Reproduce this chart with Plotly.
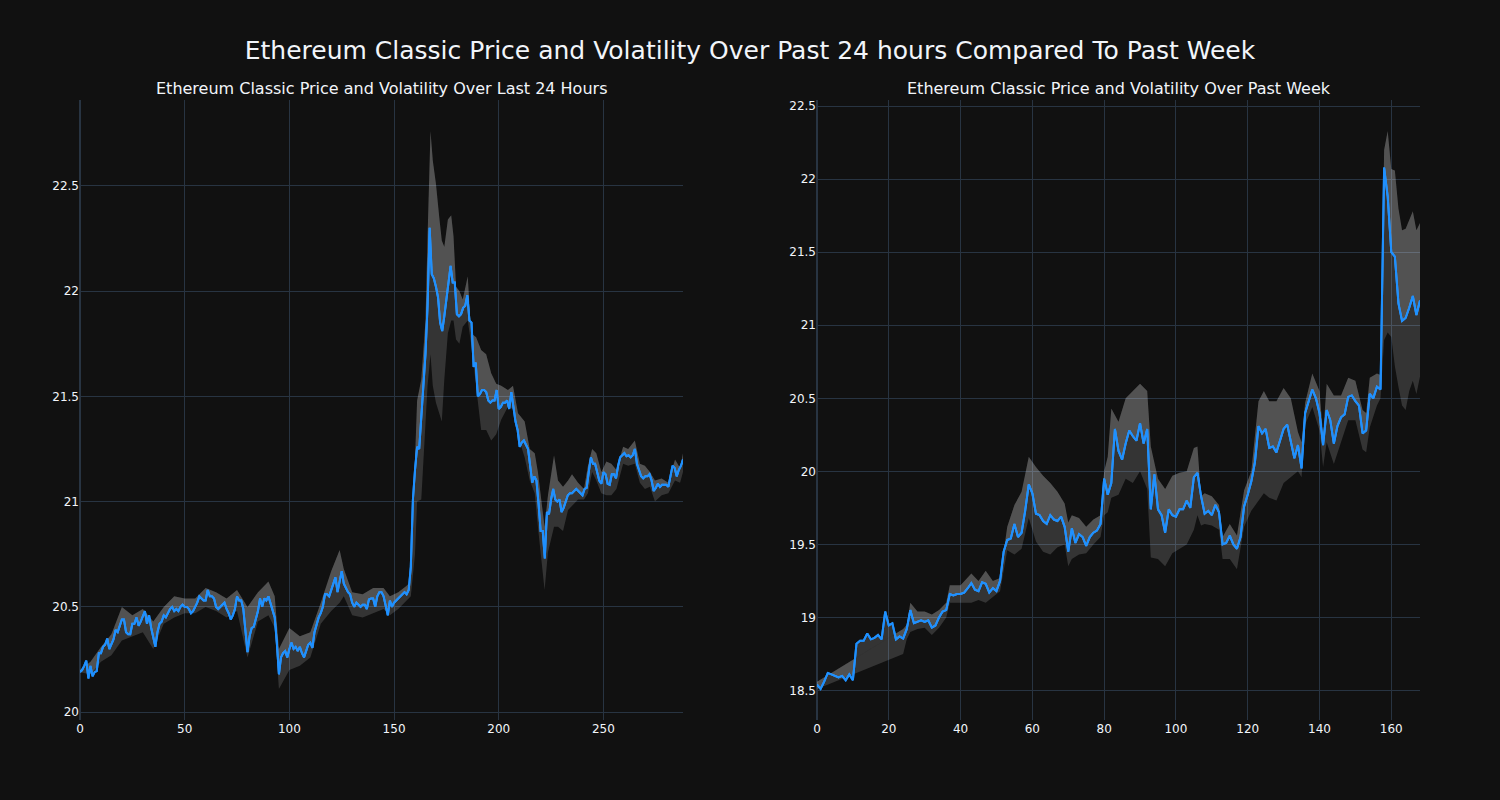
import plotly.graph_objects as go
from plotly.subplots import make_subplots

# ---------------- Last 24 hours ----------------
day_price = [
    20.19, 20.20, 20.22, 20.245, 20.16, 20.22, 20.17, 20.19, 20.195, 20.28,
    20.28, 20.31, 20.32, 20.35, 20.30, 20.32, 20.345, 20.39, 20.38, 20.41,
    20.44, 20.44, 20.38, 20.37, 20.37, 20.42, 20.42, 20.45, 20.41, 20.43,
    20.46, 20.48, 20.42, 20.46, 20.40, 20.35, 20.31, 20.38, 20.42, 20.43,
    20.46, 20.45, 20.47, 20.49, 20.50, 20.48, 20.49, 20.48, 20.50, 20.51,
    20.50, 20.50, 20.49, 20.47, 20.48, 20.50, 20.52, 20.55, 20.54, 20.53,
    20.53, 20.58, 20.55, 20.55, 20.54, 20.50, 20.49, 20.50, 20.51, 20.52,
    20.49, 20.47, 20.44, 20.46, 20.49, 20.55, 20.53, 20.53, 20.49, 20.40,
    20.285, 20.36, 20.40, 20.405, 20.44, 20.48, 20.54, 20.50, 20.54, 20.53,
    20.55, 20.52, 20.48, 20.45, 20.33, 20.18, 20.26, 20.28, 20.29, 20.26,
    20.30, 20.33, 20.30, 20.31, 20.29, 20.31, 20.28, 20.26, 20.29, 20.32,
    20.33, 20.305, 20.38, 20.42, 20.45, 20.47, 20.50, 20.56, 20.56, 20.55,
    20.58, 20.61, 20.64, 20.57, 20.63, 20.67, 20.61, 20.59, 20.57, 20.56,
    20.52, 20.50, 20.52, 20.51, 20.50, 20.51, 20.51, 20.49, 20.535, 20.54,
    20.54, 20.50, 20.55, 20.57, 20.57, 20.55, 20.50, 20.46, 20.53, 20.50,
    20.52, 20.53, 20.54, 20.55, 20.56, 20.57, 20.56, 20.58, 20.69, 21.01,
    21.15, 21.26, 21.25, 21.40, 21.58, 21.70, 21.93, 22.30, 22.08, 22.06,
    22.02, 21.97, 21.85, 21.81, 21.88, 21.97, 22.05, 22.12, 22.04, 22.04,
    21.89, 21.88, 21.89, 21.92, 21.93, 21.98, 21.86, 21.85, 21.64, 21.66,
    21.50, 21.51, 21.53, 21.53, 21.52, 21.48, 21.47, 21.48, 21.48, 21.53,
    21.44, 21.45, 21.47, 21.47, 21.48, 21.44, 21.52, 21.44, 21.38, 21.34,
    21.26, 21.28, 21.29, 21.27, 21.25, 21.17, 21.09, 21.12, 21.10, 20.99,
    20.86, 20.86, 20.73, 20.95, 20.94, 21.01, 21.06, 21.01, 21.00, 21.01,
    20.95, 20.97, 21.00, 21.03, 21.04, 21.04, 21.05, 21.06, 21.05, 21.04,
    21.03, 21.06, 21.065, 21.14, 21.21, 21.18, 21.18, 21.14, 21.10, 21.085,
    21.14, 21.13, 21.085, 21.08, 21.13, 21.13, 21.11, 21.17, 21.21, 21.22,
    21.23, 21.215, 21.22, 21.21, 21.22, 21.25, 21.18, 21.15, 21.12, 21.11,
    21.12, 21.12, 21.13, 21.10, 21.05, 21.065, 21.085, 21.07, 21.08, 21.08,
    21.08, 21.07, 21.12, 21.17, 21.16, 21.12, 21.15, 21.17, 21.20,
]
day_x = list(range(len(day_price)))

day_band_x = [
    0, 5, 10, 15, 20, 25, 30, 35, 40, 45, 50, 55, 60, 65, 70, 75, 80, 85, 90, 93,
    95, 100, 105, 110, 115, 120, 124, 126, 130, 135, 140, 145, 148, 152, 156, 158,
    160, 161, 163, 165, 166, 167.4, 168.5, 170, 171.7, 172.8, 174, 175.7, 177.3,
    178.4, 179.6, 181.2, 182.8, 185.2, 186.8, 189.2, 191.6, 194, 196.4, 198.8,
    201.2, 204.4, 206.8, 209.2, 212.4, 214.8, 217.2, 218.7, 221.9, 223.5, 226.4,
    228.3, 230.7, 233.1, 235, 237.9, 240.7, 242.6, 244.6, 246.6, 249, 251.4,
    253.8, 256.2, 259.4, 261.8, 265, 267.4, 269.8, 272.2, 274.6, 277.8, 281,
    284.2, 286.6, 288,
]
day_upper = [
    20.20, 20.24, 20.31, 20.37, 20.50, 20.46, 20.49, 20.43, 20.50, 20.55, 20.54,
    20.54, 20.59, 20.57, 20.54, 20.58, 20.50, 20.57, 20.62, 20.55, 20.30, 20.40,
    20.36, 20.38, 20.52, 20.67, 20.77, 20.68, 20.57, 20.56, 20.59, 20.59, 20.55,
    20.57, 20.60, 20.62, 21.20, 21.48, 21.58, 21.86, 22.26, 22.76, 22.62, 22.51,
    22.34, 22.24, 22.21, 22.34, 22.36, 22.26, 22.02, 22.00, 21.96, 22.07, 21.80,
    21.78, 21.72, 21.70, 21.61, 21.56, 21.55, 21.53, 21.55, 21.42, 21.38, 21.25,
    21.23, 21.14, 20.88, 21.03, 21.22, 21.10, 21.07, 21.10, 21.13, 21.09, 21.06,
    21.17, 21.25, 21.23, 21.14, 21.19, 21.18, 21.15, 21.26, 21.25, 21.29, 21.18,
    21.17, 21.14, 21.10, 21.11, 21.09, 21.20, 21.16, 21.23,
]
day_lower = [
    20.19, 20.18, 20.24, 20.27, 20.34, 20.36, 20.38, 20.30, 20.42, 20.45, 20.47,
    20.47, 20.50, 20.48, 20.45, 20.48, 20.26, 20.43, 20.46, 20.40, 20.11, 20.20,
    20.22, 20.26, 20.42, 20.48, 20.52, 20.55, 20.46, 20.45, 20.47, 20.49, 20.46,
    20.49, 20.53, 20.55, 20.75, 21.00, 21.01, 21.39, 21.55, 21.70, 21.55, 21.47,
    21.42, 21.38, 21.58, 21.80, 21.86, 21.86, 21.77, 21.75, 21.83, 21.86, 21.75,
    21.55, 21.34, 21.34, 21.29, 21.32, 21.39, 21.45, 21.44, 21.31, 21.21, 21.10,
    21.04, 20.88, 20.58, 20.76, 20.88, 20.88, 20.86, 20.96, 20.98, 21.01, 21.01,
    21.04, 21.14, 21.10, 21.04, 21.03, 21.03, 21.06, 21.18, 21.17, 21.18, 21.09,
    21.06, 21.07, 21.00, 21.03, 21.04, 21.10, 21.09, 21.14,
]

# ---------------- Past week ----------------
week_price = [
    18.54, 18.51, 18.56, 18.62, 18.61, 18.60, 18.59, 18.60, 18.57, 18.61,
    18.57, 18.82, 18.84, 18.84, 18.89, 18.85, 18.86, 18.88, 18.85, 19.04,
    18.945, 18.96, 18.85, 18.87, 18.855, 18.92, 19.05, 18.96, 18.97, 18.98,
    18.97, 18.98, 18.93, 18.945, 19.00, 19.04, 19.05, 19.16, 19.15, 19.16,
    19.16, 19.17, 19.20, 19.235, 19.19, 19.18, 19.24, 19.23, 19.17, 19.20,
    19.18, 19.25, 19.45, 19.53, 19.54, 19.64, 19.55, 19.58, 19.73, 19.91,
    19.85, 19.71, 19.70, 19.66, 19.64, 19.70, 19.67, 19.66, 19.69, 19.62,
    19.45, 19.61, 19.51, 19.57, 19.55, 19.49, 19.55, 19.58, 19.595, 19.64,
    19.95, 19.84, 19.92, 20.29, 20.14, 20.08, 20.19, 20.28, 20.24, 20.21,
    20.33, 20.19, 20.29, 19.74, 19.98, 19.74, 19.70, 19.58, 19.74, 19.70,
    19.69, 19.74, 19.74, 19.80, 19.75, 19.96, 19.99, 19.83, 19.71, 19.73,
    19.70, 19.77, 19.72, 19.50, 19.51, 19.56, 19.50, 19.47, 19.55, 19.76,
    19.84, 19.93, 20.06, 20.31, 20.26, 20.29, 20.16, 20.17, 20.13, 20.21,
    20.29, 20.32, 20.20, 20.09, 20.18, 20.02, 20.40, 20.48, 20.56, 20.50,
    20.40, 20.18, 20.42, 20.35, 20.19, 20.31, 20.37, 20.39, 20.51, 20.52,
    20.48, 20.45, 20.26, 20.28, 20.53, 20.50, 20.58, 20.56, 22.08, 21.88,
    21.50, 21.47, 21.15, 21.03, 21.05, 21.12, 21.20, 21.07, 21.17,
]
week_x = list(range(len(week_price)))

week_band_x = [
    0, 24, 25, 26, 28, 30, 32, 34, 36, 37, 40, 43, 45, 47, 49, 51, 53, 55, 57, 59,
    61, 63, 65, 67, 69, 70, 71, 73, 75, 77, 79, 80, 81, 82, 84, 86, 88, 90, 92, 93,
    95, 97, 99, 101, 103, 105, 106, 107, 108, 110, 112, 113, 115, 117, 119, 121,
    123, 124.5, 126, 128, 130, 132, 134, 135, 136, 138, 140, 141, 142, 144, 146,
    148, 150, 152, 153, 154, 156, 157, 158, 159, 160, 161, 162, 163, 164, 165,
    166, 167, 168,
]
week_upper = [
    18.56, 18.92, 18.95, 19.10, 19.04, 19.04, 19.02, 19.05, 19.10, 19.22, 19.22,
    19.30, 19.25, 19.32, 19.25, 19.27, 19.62, 19.77, 19.86, 20.10, 20.03, 19.97,
    19.92, 19.86, 19.78, 19.65, 19.70, 19.68, 19.62, 19.67, 19.70, 20.00, 20.10,
    20.43, 20.34, 20.50, 20.55, 20.60, 20.55, 20.17, 19.95, 19.88, 19.97, 19.99,
    20.00, 20.16, 20.17, 19.83, 19.85, 19.83, 19.77, 19.55, 19.64, 19.56, 19.87,
    20.00, 20.48, 20.55, 20.48, 20.48, 20.57, 20.50, 20.27, 20.20, 20.47, 20.67,
    20.55, 20.25, 20.60, 20.52, 20.52, 20.64, 20.62, 20.42, 20.40, 20.64, 20.67,
    20.66, 22.20, 22.33, 22.07, 22.06, 21.80, 21.65, 21.66, 21.72, 21.78, 21.65,
    21.70,
]
week_lower = [
    18.51, 18.75, 18.85, 18.90, 18.92, 18.93, 18.88, 18.93, 19.00, 19.10, 19.10,
    19.10, 19.12, 19.10, 19.14, 19.18, 19.46, 19.43, 19.47, 19.68, 19.52, 19.45,
    19.43, 19.48, 19.50, 19.35, 19.40, 19.43, 19.44, 19.50, 19.55, 19.70, 19.72,
    19.82, 19.84, 19.95, 19.92, 20.00, 19.88, 19.41, 19.40, 19.35, 19.44, 19.47,
    19.50, 19.60, 19.70, 19.63, 19.64, 19.63, 19.60, 19.40, 19.40, 19.33, 19.62,
    19.73, 19.80, 19.85, 19.82, 19.80, 19.92, 19.96, 20.00, 19.96, 20.32, 20.44,
    20.28, 20.03, 20.20, 20.05, 20.20, 20.35, 20.35, 20.15, 20.13, 20.30, 20.45,
    20.50, 20.90, 20.95, 20.92, 20.72, 20.58, 20.45, 20.42, 20.55, 20.62, 20.53,
    20.65,
]

line_color = "#1E90FF"
band_fill = "rgba(255,255,255,0.15)"
font_family = "DejaVu Sans"

fig = make_subplots(
    rows=1, cols=2,
    subplot_titles=(
        "Ethereum Classic Price and Volatility Over Last 24 Hours",
        "Ethereum Classic Price and Volatility Over Past Week",
    ),
)

for col, (px, py, bx, up, lo) in enumerate(
    [
        (day_x, day_price, day_band_x, day_upper, day_lower),
        (week_x, week_price, week_band_x, week_upper, week_lower),
    ],
    start=1,
):
    fig.add_trace(go.Scatter(x=px, y=py, mode="lines",
                             line=dict(color=line_color, width=2),
                             showlegend=False, hoverinfo="skip"), row=1, col=col)
    fig.add_trace(go.Scatter(x=bx, y=up, mode="lines", line=dict(width=0),
                             fill="tonexty", fillcolor=band_fill,
                             showlegend=False, hoverinfo="skip"), row=1, col=col)
    fig.add_trace(go.Scatter(x=bx, y=lo, mode="lines", line=dict(width=0),
                             fill="tonexty", fillcolor=band_fill,
                             showlegend=False, hoverinfo="skip"), row=1, col=col)
    fig.add_trace(go.Scatter(x=px, y=py, mode="lines",
                             line=dict(color=line_color, width=2),
                             showlegend=False), row=1, col=col)

fig.update_layout(
    template="plotly_dark",
    width=1500, height=800,
    font=dict(family=font_family),
    title=dict(text="Ethereum Classic Price and Volatility Over Past 24 hours Compared To Past Week",
               x=0.5, xanchor="center", y=0.9375, yanchor="middle",
               font=dict(size=25, family=font_family)),
    showlegend=False,
)
fig.update_annotations(font=dict(size=16, family=font_family))
fig.write_html(
    "out.html",
    config={"displayModeBar": False},
    post_script="document.body.style.margin='0';document.body.style.background='#111111';",
)
